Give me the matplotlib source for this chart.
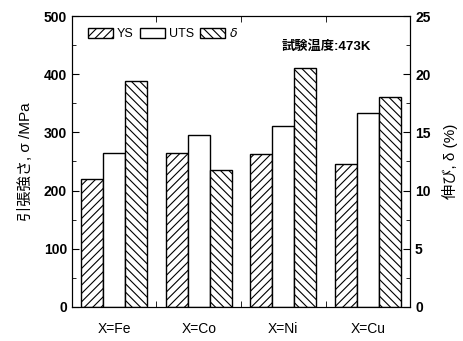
import numpy as np
import matplotlib.pyplot as plt
from matplotlib.ticker import MultipleLocator

plt.rcParams['font.family'] = ['Liberation Sans', 'Noto Sans CJK JP', 'DejaVu Sans']
plt.rcParams['hatch.linewidth'] = 0.8

# data
alloys = ['X=Fe', 'X=Co', 'X=Ni', 'X=Cu']
ys = [220, 265, 262, 246]
uts = [265, 296, 311, 333]
elong = [19.4, 11.8, 20.5, 18.0]

x = np.arange(len(alloys))
w = 0.26

fig = plt.figure(figsize=(4.64, 3.41), dpi=100)
ax = fig.add_axes([0.155, 0.10, 0.729, 0.853])
ax2 = ax.twinx()

b1 = ax.bar(x - w, ys, w, facecolor='white', edgecolor='black', hatch='////', lw=1.0, label='YS')
b2 = ax.bar(x, uts, w, facecolor='white', edgecolor='black', lw=1.0, label='UTS')
b3 = ax2.bar(x + w, elong, w, facecolor='white', edgecolor='black', hatch='\\\\\\\\', lw=1.0, label=r'$\delta$')

ax.set_xlim(-0.5, 3.5)
ax.set_ylim(0, 500)
ax2.set_ylim(0, 25)
ax.set_xticks(x)
ax.set_xticklabels(alloys, fontsize=10)
ax.set_xticks(np.arange(-0.5, 4, 1.0)[1:-1], minor=True)
ax.yaxis.set_major_locator(MultipleLocator(100))
ax.yaxis.set_minor_locator(MultipleLocator(50))
ax2.yaxis.set_major_locator(MultipleLocator(5))
ax2.yaxis.set_minor_locator(MultipleLocator(2.5))

ax.tick_params(axis='x', which='major', length=0, pad=11)
ax.tick_params(axis='x', which='minor', direction='in', length=4, top=True)
ax.tick_params(axis='y', which='major', direction='in', length=5, labelsize=10)
ax.tick_params(axis='y', which='minor', direction='in', length=3)
ax2.tick_params(axis='y', which='major', direction='in', length=5, labelsize=10)
ax2.tick_params(axis='y', which='minor', direction='in', length=3)
for lab in ax.get_yticklabels() + ax2.get_yticklabels():
    lab.set_fontweight('bold')

ax.set_ylabel('引張強さ, σ /MPa', fontsize=11, labelpad=8)
ax2.set_ylabel('伸び, δ (%)', fontsize=11, labelpad=8)

ax.text(0.62, 0.885, '試験温度:473K', transform=ax.transAxes, fontsize=9.5, fontweight='bold')

ax.legend(handles=[b1, b2, b3], loc='upper left', ncol=3, frameon=False,
          fontsize=9, handlelength=2.0, handleheight=0.9, columnspacing=0.5,
          handletextpad=0.3, bbox_to_anchor=(0.015, 1.0))

fig.savefig('out.png', dpi=100)
